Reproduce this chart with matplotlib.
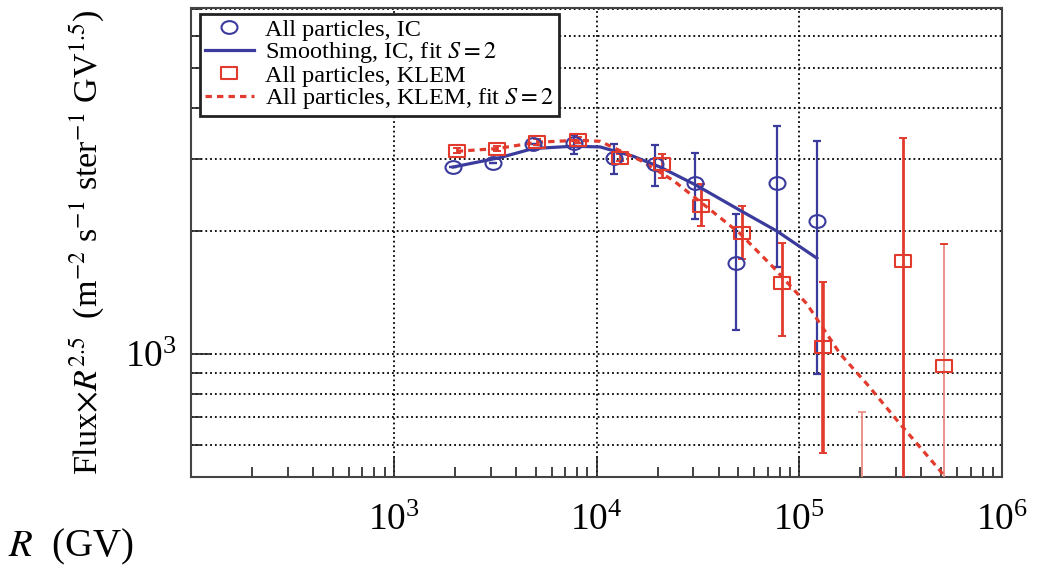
import numpy as np
import matplotlib
matplotlib.use("Agg")
import matplotlib.pyplot as plt
from matplotlib.path import Path
from matplotlib.transforms import Affine2D
from matplotlib.ticker import NullFormatter, LogLocator, FixedLocator

plt.rcParams['font.family'] = 'serif'
plt.rcParams['font.serif'] = ['Liberation Serif', 'DejaVu Serif']
plt.rcParams['mathtext.fontset'] = 'stix'

# IC, all particles
ic_r = [1960, 3087, 4845, 7745, 12240, 19430, 30600, 48600, 77400, 121900]
ic_f = [2869, 2935, 3275, 3286, 3026, 2914, 2620, 1673, 2622, 2116]
ic_lo = [2869, 2935, 3275, 3095, 2765, 2573, 2145, 1146, 1632, 894]
ic_hi = [2869, 2935, 3275, 3431, 3262, 3243, 3106, 2206, 3624, 3323]

# IC smoothing fit S=2
icfit_r = [1960, 3342, 4862, 7656, 10410, 15140, 20570, 30600, 51030, 77400, 121900]
icfit_f = [2869, 3026, 3184, 3226, 3213, 3049, 2869, 2598, 2247, 2000, 1717]

# KLEM, all particles
klem_r = [2044, 3240, 5071, 8131, 13060, 21040, 32650, 52190, 81920, 130500, 326000, 517600]
klem_f = [3141, 3184, 3305, 3337, 3026, 2926, 2303, 1982, 1491, 1039, 1689, 933]
klem_lo = [3100, 3140, 3250, 3280, 2960, 2704, 2057, 1711, 1104, 574, 300, 300]
klem_hi = [3185, 3230, 3360, 3395, 3090, 3083, 2614, 2299, 1869, 1505, 3380, 1863]

# KLEM point below the frame (only upper error visible)
klem_low_r = [204600]
klem_low_f = [420]
klem_low_lo = [300]
klem_low_hi = [720]

# KLEM fit S=2
klemfit_r = [2044, 3240, 5071, 8131, 10410, 16390, 23840, 34960, 51030, 74220,
             108800, 158800, 215100, 314000, 494500, 535500]
klemfit_f = [3135, 3184, 3299, 3337, 3317, 2981, 2662, 2290, 1971, 1632,
             1327, 1001, 845, 674, 518, 490]

x_labeled = [1e3, 1e4, 1e5, 1e6]

blue = '#3b3b9e'
red = '#e23b2e'
pale_red = '#e98a80'

ell = Path.unit_circle().transformed(Affine2D().scale(1.25, 1.0))
box = Path([(-1, -1), (1, -1), (1, 1), (-1, 1), (-1, -1)],
           [Path.MOVETO, Path.LINETO, Path.LINETO, Path.LINETO, Path.CLOSEPOLY])
box = box.transformed(Affine2D().scale(1.25, 1.0))

fig = plt.figure(figsize=(10.38, 5.73), dpi=100)
ax = fig.add_axes([0.184, 0.1675, 0.7815, 0.8185])

ic_r = np.array(ic_r); ic_f = np.array(ic_f)
klem_r = np.array(klem_r); klem_f = np.array(klem_f)

ax.errorbar(ic_r, ic_f, yerr=[ic_f - np.array(ic_lo), np.array(ic_hi) - ic_f],
            fmt='none', ecolor=blue, elinewidth=1.6, capsize=3, capthick=1.6, zorder=3)
kb = ax.errorbar(klem_r, klem_f, yerr=[klem_f - np.array(klem_lo), np.array(klem_hi) - klem_f],
                 fmt='none', ecolor=red, elinewidth=2.0, capsize=3, capthick=1.4, zorder=3)
bar_cols = [red] * len(klem_r)
bar_cols[-1] = pale_red
bar_w = [2.0] * len(klem_r)
bar_w[-1] = 1.3
bar_w[-3] = 2.6
kb[2][0].set_color(bar_cols)
kb[2][0].set_linewidth(bar_w)
lf = np.array(klem_low_f)
ax.errorbar(klem_low_r, lf, yerr=[lf - np.array(klem_low_lo), np.array(klem_low_hi) - lf],
            fmt='none', ecolor=pale_red, elinewidth=1.3, capsize=3, capthick=1.2, zorder=3)

ax.plot(icfit_r, icfit_f, color=blue, lw=2.3, zorder=4, label=r'Smoothing, IC, fit $S = 2$')
ax.plot(klemfit_r, klemfit_f, color=red, lw=2.3, ls=(0, (2.0, 1.6)), zorder=4,
        label=r'All particles, KLEM, fit $S = 2$')
ax.plot(ic_r, ic_f, ls='none', marker=ell, ms=11.5, mfc='none', mec=blue, mew=1.5,
        zorder=5, label='All particles, IC')
ax.plot(klem_r, klem_f, ls='none', marker=box, ms=11.5, mfc='none', mec=red, mew=1.5,
        zorder=5, label='All particles, KLEM')

ax.set_xscale('log')
ax.set_yscale('log')
ax.set_xlim(100, 1e6)
ax.set_ylim(500, 7030)

ax.xaxis.set_major_locator(FixedLocator(x_labeled))
ax.xaxis.set_minor_locator(LogLocator(base=10, subs=np.arange(2, 10), numticks=20))
ax.yaxis.set_minor_formatter(NullFormatter())
ax.xaxis.set_minor_formatter(NullFormatter())

ax.grid(which='major', axis='x', ls=':', color='k', lw=1.3)
ax.grid(which='both', axis='y', ls=':', color='k', lw=1.3)

ax.tick_params(which='both', direction='in', top=False, right=False, width=1.2, color='#222')
ax.tick_params(which='major', length=15, labelsize=27)
ax.tick_params(which='minor', length=7)
ax.tick_params(axis='x', which='major', pad=19)
ax.tick_params(axis='y', which='major', pad=10)
for s in ax.spines.values():
    s.set_linewidth(1.5)
    s.set_color('#444')

ax.set_ylabel(r'Flux$\times R^{2.5}$  (m$^{-2}$ s$^{-1}$ ster$^{-1}$ GV$^{1.5}$)', fontsize=24.5)
ax.yaxis.set_label_coords(-0.104, 0.5)
fig.text(0.008, 0.045, r'$R$  (GV)', fontsize=28, va='center', ha='left')

h, l = ax.get_legend_handles_labels()
order = [2, 0, 3, 1]
leg = ax.legend([h[i] for i in order], [l[i] for i in order], loc='upper left',
                bbox_to_anchor=(0.0115, 0.988), fontsize=17.5, frameon=True, fancybox=False,
                framealpha=1, edgecolor='#222', handlelength=2.0, handletextpad=0.45,
                labelspacing=-0.02, borderpad=0.2, borderaxespad=0)
leg.get_frame().set_linewidth(2)

fig.savefig('out.png', dpi=100)
